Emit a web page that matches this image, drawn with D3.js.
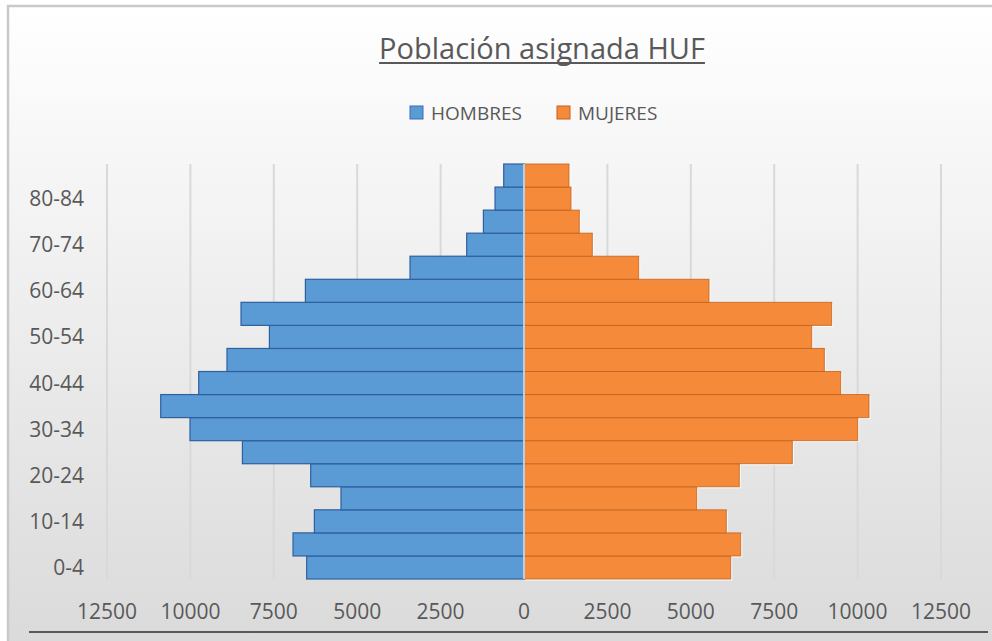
<!DOCTYPE html>
<html>
<head>
<meta charset="utf-8">
<script src="https://cdn.jsdelivr.net/npm/d3@7"></script>
<style>
  body { margin: 0; background: #fff; }
  text { font-family: "Open Sans", "Noto Sans", sans-serif; fill: #595959; }
</style>
</head>
<body>
<div id="chart"></div>
<script>
// piramide de poblacion
let ages = ["0-4","5-9","10-14","15-19","20-24","25-29","30-34","35-39","40-44",
  "45-49","50-54","55-59","60-64","65-69","70-74","75-79","80-84","85+"];
let hombres = [6514, 6924, 6283, 5486, 6394, 8441, 10012, 10890, 9751,
  8903, 7632, 8483, 6553, 3417, 1718, 1217, 869, 608];
let mujeres = [6196, 6496, 6064, 5177, 6454, 8043, 10003, 10342, 9493,
  9003, 8624, 9223, 5546, 3438, 2048, 1658, 1409, 1349];
let xTicks = [-12500, -10000, -7500, -5000, -2500, 0, 2500, 5000, 7500, 10000, 12500];
let titulo = "Población asignada HUF";
let series = ["HOMBRES", "MUJERES"];

let w = 992, h = 641;
let azul = "#5b9bd5", naranja = "#f58a3a";

let svg = d3.select("#chart").append("svg")
  .attr("width", w)
  .attr("height", h);

// fondo con degradado
let defs = svg.append("defs");
let grad = defs.append("linearGradient")
  .attr("id", "fondo")
  .attr("x1", 0).attr("y1", 0).attr("x2", 0).attr("y2", 1);
grad.append("stop").attr("offset", "0%").attr("stop-color", "#ffffff");
grad.append("stop").attr("offset", "100%").attr("stop-color", "#d9d9d9");

svg.append("rect")
  .attr("x", 8).attr("y", 6)
  .attr("width", w + 20).attr("height", h + 20)
  .attr("fill", "url(#fondo)")
  .attr("stroke", "#c9c9c9")
  .attr("stroke-width", 2.5);

let x = d3.scaleLinear().domain([-12500, 12500]).range([107, 941]);
let y = d3.scaleBand().domain(ages.slice().reverse()).range([164, 579]).padding(0);

// lineas de cuadricula
svg.append("g").selectAll("line")
  .data(xTicks.filter(d => d != 0))
  .enter()
  .append("line")
  .attr("x1", d => x(d)).attr("x2", d => x(d))
  .attr("y1", 164).attr("y2", 579)
  .attr("stroke", "#d9d9d9")
  .attr("stroke-width", 2);

// barras mujeres (con sombra clara)
let gM = svg.append("g");
gM.selectAll("rect.sombra")
  .data(mujeres)
  .enter()
  .append("rect")
  .attr("class", "sombra")
  .attr("x", x(0) + 1.5)
  .attr("y", (d, i) => y(ages[i]) + 1.5)
  .attr("width", d => x(d) - x(0))
  .attr("height", y.bandwidth())
  .attr("fill", "#ffffff")
  .attr("opacity", 0.9);
gM.selectAll("rect.barra")
  .data(mujeres)
  .enter()
  .append("rect")
  .attr("class", "barra")
  .attr("x", x(0))
  .attr("y", (d, i) => y(ages[i]))
  .attr("width", d => x(d) - x(0))
  .attr("height", y.bandwidth())
  .attr("fill", naranja)
  .attr("stroke", "#c2611c")
  .attr("stroke-opacity", 0.8)
  .attr("stroke-width", 1);

// barras hombres
svg.append("g").selectAll("rect")
  .data(hombres)
  .enter()
  .append("rect")
  .attr("x", d => x(-d))
  .attr("y", (d, i) => y(ages[i]))
  .attr("width", d => x(0) - x(-d))
  .attr("height", y.bandwidth())
  .attr("fill", azul)
  .attr("stroke", "#2f5f9e")
  .attr("stroke-width", 1.2);

// eje central
svg.append("line")
  .attr("x1", x(0)).attr("x2", x(0))
  .attr("y1", 164).attr("y2", 579)
  .attr("stroke", "#e4ecf6")
  .attr("stroke-width", 1.5);

// etiquetas eje y (una de cada dos)
svg.append("g").selectAll("text")
  .data(ages.filter((d, i) => i % 2 == 0))
  .enter()
  .append("text")
  .attr("x", 84)
  .attr("y", d => y(d) + y.bandwidth() / 2 + 7.5)
  .attr("text-anchor", "end")
  .style("font-size", "21px")
  .text(d => d);

// etiquetas eje x
svg.append("g").selectAll("text")
  .data(xTicks)
  .enter()
  .append("text")
  .attr("x", d => x(d))
  .attr("y", 619)
  .attr("text-anchor", "middle")
  .style("font-size", "21px")
  .text(d => Math.abs(d));

// linea inferior
svg.append("line")
  .attr("x1", 29).attr("x2", 988)
  .attr("y1", 632).attr("y2", 632)
  .attr("stroke", "#595959")
  .attr("stroke-width", 2);

// titulo con subrayado propio
let tit = svg.append("text")
  .attr("x", 542).attr("y", 59)
  .attr("text-anchor", "middle")
  .style("font-size", "29px")
  .text(titulo);
let bb = tit.node().getBBox();
svg.append("line")
  .attr("x1", bb.x).attr("x2", bb.x + bb.width)
  .attr("y1", 63).attr("y2", 63)
  .attr("stroke", "#595959")
  .attr("stroke-width", 2);

// leyenda
let leyenda = [
  { nombre: series[0], color: azul, borde: "#3a6fae", x: 410 },
  { nombre: series[1], color: naranja, borde: "#c2611c", x: 557 }
];
let lg = svg.append("g").selectAll("g")
  .data(leyenda)
  .enter()
  .append("g");
lg.append("rect")
  .attr("x", d => d.x).attr("y", 106)
  .attr("width", 13).attr("height", 13)
  .attr("fill", d => d.color)
  .attr("stroke", d => d.borde)
  .attr("stroke-width", 1);
lg.append("text")
  .attr("x", d => d.x + 21)
  .attr("y", 120)
  .style("font-size", "19px")
  .text(d => d.nombre);
</script>
</body>
</html>
